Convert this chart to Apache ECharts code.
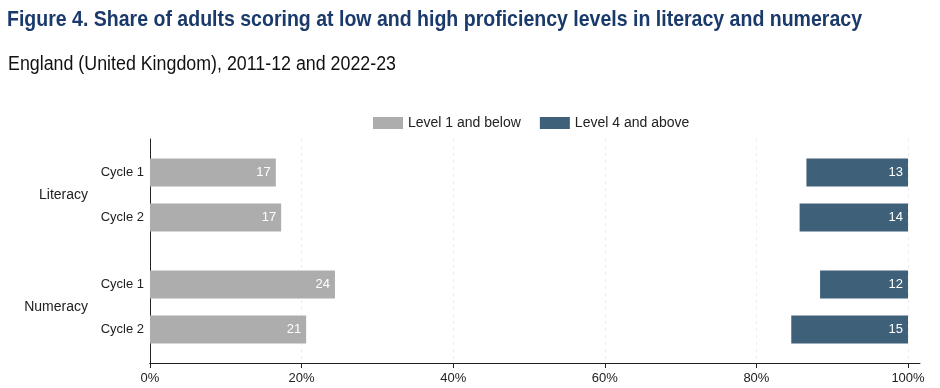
<!DOCTYPE html>
<html><head><meta charset="utf-8">
<script src="https://cdn.jsdelivr.net/npm/echarts@6/dist/echarts.min.js"></script>
<style>html,body{margin:0;padding:0;background:#fff}#c{width:940px;height:388px}</style>
</head><body><div id="c"></div>
<script>
// ---- data ----
var titleText = 'Figure 4. Share of adults scoring at low and high proficiency levels in literacy and numeracy';
var subtitleText = 'England (United Kingdom), 2011-12 and 2022-23';
var groups = ['Literacy', 'Numeracy'];
var cycles = ['Cycle 1', 'Cycle 2'];
var lowValues = [16.6, 17.3, 24.4, 20.6];   // Level 1 and below (%)
var highValues = [13.4, 14.3, 11.6, 15.4];  // Level 4 and above (%)
var xTicks = [0, 20, 40, 60, 80, 100];
var seriesNames = ['Level 1 and below', 'Level 4 and above'];

// rows on the category axis (with blank spacer rows)
// index: 0 blank,1 L-C1,2 L-mid,3 L-C2,4 blank,5 blank,6 N-C1,7 N-mid,8 N-C2,9 blank
var rowIdx = [1, 3, 6, 8];
var midIdx = [2, 7];
var nRows = 10;
var rowKeys = [], cycleLabel = {}, groupLabel = {};
for (var i = 0; i < nRows; i++) rowKeys.push('r' + i);
rowIdx.forEach(function (r, k) { cycleLabel['r' + r] = cycles[k % 2]; });
midIdx.forEach(function (r, k) { groupLabel['r' + r] = groups[k]; });

function fill(vals) {
  var a = []; for (var i = 0; i < nRows; i++) a.push(null);
  rowIdx.forEach(function (r, k) { a[r] = vals[k]; });
  return a;
}
var lowData = fill(lowValues);
var gapData = fill(lowValues.map(function (v, k) { return 100 - v - highValues[k]; }));
var highData = fill(highValues);

var font = '"Liberation Sans", Arial, sans-serif';
var grey = '#adadad', blue = '#3e6079';

// condensed headline text: horizontally scale a regular font to the target width
var titleFont = 'bold 22px "Liberation Sans", Arial, sans-serif';
var subFont = '19.5px "Liberation Sans", Arial, sans-serif';
var mctx = document.createElement('canvas').getContext('2d');
function widthOf(t, f) { mctx.font = f; return mctx.measureText(t).width; }
var titleScale = 855 / widthOf(titleText, titleFont);
var subScale = 388 / widthOf(subtitleText, subFont);

var chart = echarts.init(document.getElementById('c'), null, {renderer: 'canvas'});
chart.setOption({
  animation: false,
  graphic: [
    {type: 'text', x: 7, y: 19.5, scaleX: titleScale, originX: 0, originY: 0,
     style: {x: 0, y: 0, text: titleText, font: titleFont, fill: '#1a3a6b', verticalAlign: 'middle'}},
    {type: 'text', x: 8, y: 64.3, scaleX: subScale, originX: 0, originY: 0,
     style: {x: 0, y: 0, text: subtitleText, font: subFont, fill: '#111', verticalAlign: 'middle'}}
  ],
  legend: {
    data: seriesNames, left: 368, top: 111,
    itemWidth: 30, itemHeight: 12, itemGap: 19, icon: 'rect',
    textStyle: {fontFamily: font, fontSize: 14, color: '#222'}
  },
  grid: [
    {left: 150, right: 32, top: 139, bottom: 25, containLabel: false},
    {left: 150, right: 20, top: 139, bottom: 25, containLabel: false}
  ],
  xAxis: [
    {type: 'value', gridIndex: 0, min: xTicks[0], max: xTicks[xTicks.length - 1], interval: 20,
     axisLine: {show: true, lineStyle: {color: '#222', width: 1}},
     axisTick: {show: true, length: 5, lineStyle: {color: '#222'}},
     axisLabel: {formatter: '{value}%', fontFamily: font, fontSize: 13, color: '#222', margin: 9},
     splitLine: {show: true, lineStyle: {color: '#ececec', type: [3, 4], width: 1}}},
    {type: 'value', gridIndex: 1, min: 0, max: 1,
     axisLine: {show: true, lineStyle: {color: '#222', width: 1}},
     axisTick: {show: false}, axisLabel: {show: false}, splitLine: {show: false}}
  ],
  yAxis: [
    {type: 'category', gridIndex: 0, data: rowKeys, inverse: true,
     axisLine: {show: true, lineStyle: {color: '#222'}},
     axisTick: {show: false},
     axisLabel: {interval: 0, margin: 6, fontFamily: font, fontSize: 13, color: '#222',
       formatter: function (v) { return cycleLabel[v] || ''; }}},
    {type: 'category', gridIndex: 0, data: rowKeys, inverse: true, position: 'left', offset: 0,
     axisLine: {show: false}, axisTick: {show: false},
     axisLabel: {interval: 0, margin: 62, fontFamily: font, fontSize: 14, color: '#222',
       formatter: function (v) { return groupLabel[v] || ''; }}},
    {type: 'value', gridIndex: 1, show: false}
  ],
  series: [
    {name: seriesNames[0], type: 'bar', stack: 's', barWidth: 28, data: lowData,
     itemStyle: {color: grey},
     label: {show: true, position: 'insideRight', distance: 5, color: '#fff', fontFamily: font, fontSize: 13,
       formatter: function (p) { return Math.round(p.value); }}},
    {name: 'gap', type: 'bar', stack: 's', barWidth: 28, data: gapData,
     itemStyle: {color: 'rgba(0,0,0,0)'}, silent: true, label: {show: false}},
    {name: seriesNames[1], type: 'bar', stack: 's', barWidth: 28, data: highData,
     itemStyle: {color: blue},
     label: {show: true, position: 'insideRight', distance: 5, color: '#fff', fontFamily: font, fontSize: 13,
       formatter: function (p) { return Math.round(p.value); }}}
  ]
});
</script></body></html>
